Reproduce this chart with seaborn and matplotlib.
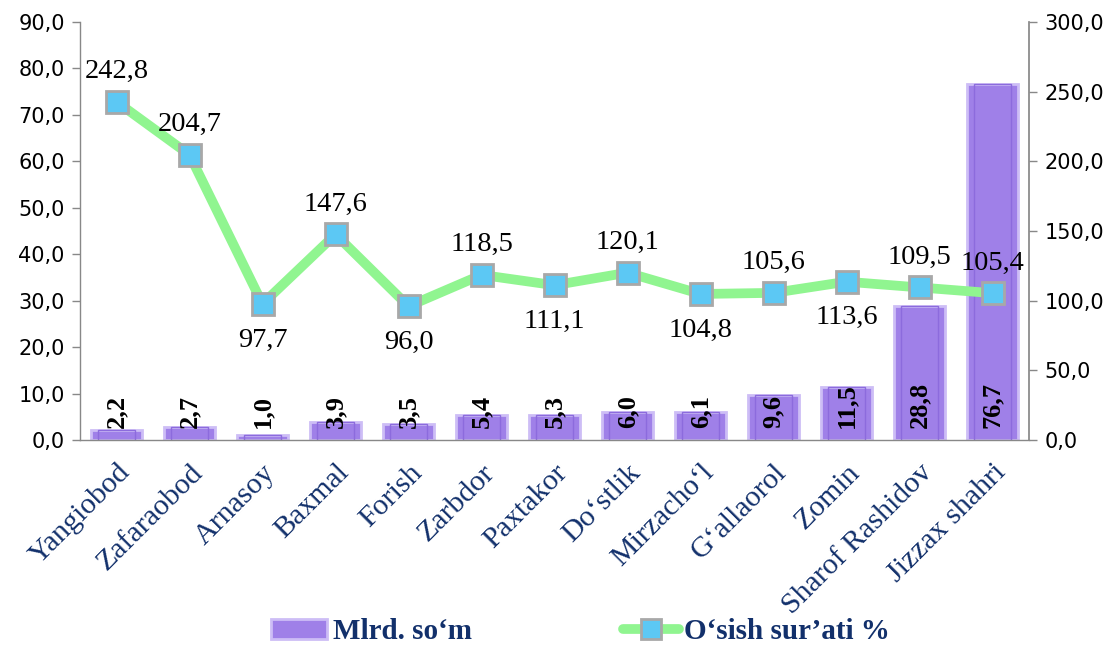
import matplotlib
matplotlib.use("Agg")
import matplotlib.pyplot as plt
import seaborn as sns
import pandas as pd
import numpy as np
from matplotlib.lines import Line2D
from matplotlib.patches import Patch

categories = ["Yangiobod", "Zafaraobod", "Arnasoy", "Baxmal", "Forish", "Zarbdor",
              "Paxtakor", "Do\u2018stlik", "Mirzacho\u2018l", "G\u2018allaorol", "Zomin",
              "Sharof Rashidov", "Jizzax shahri"]
mlrd_som = [2.2, 2.7, 1.0, 3.9, 3.5, 5.4, 5.3, 6.0, 6.1, 9.6, 11.5, 28.8, 76.7]
growth = [242.8, 204.7, 97.7, 147.6, 96.0, 118.5, 111.1, 120.1, 104.8, 105.6, 113.6, 109.5, 105.4]
growth_label_below = [False, False, True, False, True, False, True, False, True, False, True, False, False]
left_ticks = [0, 10, 20, 30, 40, 50, 60, 70, 80, 90]
right_ticks = [0, 50, 100, 150, 200, 250, 300]
bar_name = "Mlrd. so\u2018m"
line_name = "O\u2018sish sur\u2019ati %"

df = pd.DataFrame({"cat": categories, "val": mlrd_som, "gr": growth})

sns.set_theme(style="white")
plt.rcParams['font.family'] = ['DejaVu Sans']

SERIF = "Liberation Serif"
NAVY = "#12306B"
BAR = "#9F80E8"
GREEN = "#90F590"
BLUE = "#5CC8F4"

fig = plt.figure(figsize=(11.17, 6.49), dpi=100)
ax = fig.add_axes([80/1117, 1-440/649, (1029-80)/1117, (440-22)/649])

sns.barplot(data=df, x="cat", y="val", ax=ax, color=BAR, width=0.7,
            saturation=1, edgecolor="#CDBDF6", linewidth=2.0)
# inner darker frame to mimic the bevelled bar look
sns.barplot(data=df, x="cat", y="val", ax=ax, fill=False, width=0.5,
            edgecolor="#8C6BDD", linewidth=1.0)
for i, v in enumerate(mlrd_som):
    ax.annotate(f"{v:.1f}".replace(".", ","), (i, 0), xytext=(0, 9), textcoords="offset points",
                rotation=90, ha="center", va="bottom", fontsize=19, fontweight="bold",
                family=SERIF, color="black", zorder=5)

ax.set_xlim(-0.5, len(categories) - 0.5)
ax.set_ylim(0, 90)
ax.set_yticks(left_ticks)
ax.set_yticklabels([f"{t:.1f}".replace(".", ",") for t in left_ticks], fontsize=15, color="black")
ax.set_xlabel("")
ax.set_ylabel("")
ax.set_xticks(range(len(categories)))
ax.set_xticklabels(categories, rotation=45, ha="right", rotation_mode="anchor",
                   fontsize=21.5, family=SERIF, color=NAVY)
ax.tick_params(axis="x", which="major", length=0, pad=14)
ax.set_xticks(np.arange(-0.5, len(categories), 1.0), minor=True)
ax.tick_params(axis="x", which="minor", length=6, color="#888888", width=1, direction="out")
ax.tick_params(axis="y", length=6, color="#888888", width=1, direction="out", left=True, pad=5)
for s in ["top", "right"]:
    ax.spines[s].set_visible(False)
for s in ["left", "bottom"]:
    ax.spines[s].set_color("#888888")
    ax.spines[s].set_linewidth(1)

ax2 = ax.twinx()
sns.pointplot(data=df, x="cat", y="gr", ax=ax2, color=GREEN, errorbar=None,
              markers="s", linestyles="-", linewidth=7,
              markersize=16, markerfacecolor=BLUE, markeredgecolor="#A8A8A8",
              markeredgewidth=2)
ax2.set_xlim(-0.5, len(categories) - 0.5)
ax2.set_ylim(0, 300)
ax2.set_yticks(right_ticks)
ax2.set_yticklabels([f"{t:.1f}".replace(".", ",") for t in right_ticks], fontsize=15, color="black")
ax2.set_ylabel("")
ax2.tick_params(axis="y", length=6, color="#888888", width=1, direction="out", right=True, pad=5)
for s in ["top", "left", "bottom"]:
    ax2.spines[s].set_visible(False)
ax2.spines["right"].set_color("#888888")

for i, (g, below) in enumerate(zip(growth, growth_label_below)):
    txt = f"{g:.1f}".replace(".", ",")
    if below:
        ax2.annotate(txt, (i, g), xytext=(0, -17), textcoords="offset points",
                     ha="center", va="top", fontsize=20.5, family=SERIF, color="black")
    else:
        ax2.annotate(txt, (i, g), xytext=(0, 17), textcoords="offset points",
                     ha="center", va="baseline", fontsize=20.5, family=SERIF, color="black")

handles = [Patch(facecolor=BAR, edgecolor="#CDBDF6", linewidth=2),
           Line2D([0], [0], color=GREEN, lw=7, marker="s", markersize=14,
                  markerfacecolor=BLUE, markeredgecolor="#A8A8A8", markeredgewidth=2)]
fig.legend(handles, [bar_name, line_name], loc="lower center", bbox_to_anchor=(0.52, -0.035),
           ncol=2, frameon=False, columnspacing=5.2, handlelength=1.9, handletextpad=0.2,
           prop={"family": SERIF, "size": 21, "weight": "bold"}, labelcolor=NAVY)

fig.savefig("out.png", dpi=100)
